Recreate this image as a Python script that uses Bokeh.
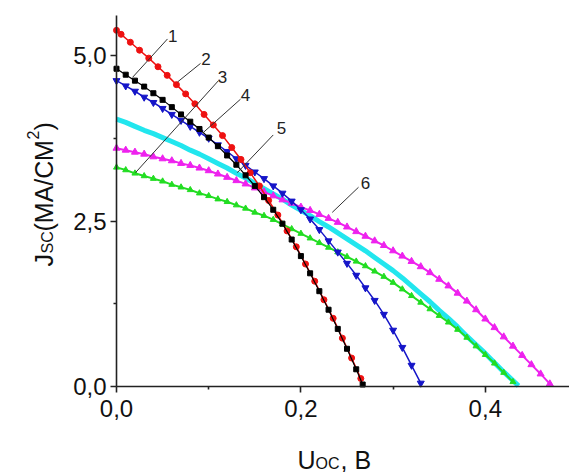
import math
from bokeh.plotting import figure
from bokeh.models import FixedTicker, CustomJSTickFormatter, Label, Range1d
from bokeh.embed import file_html
from bokeh.resources import INLINE

# ---------------- data ----------------
# curve 1 (black squares)
u1 = [0.00, 0.01, 0.02, 0.03, 0.04, 0.05, 0.06, 0.07, 0.08, 0.09, 0.10, 0.11, 0.12, 0.13,
      0.14, 0.15, 0.16, 0.17, 0.18, 0.19, 0.20, 0.21, 0.22, 0.23, 0.24, 0.25, 0.26, 0.267]
j1 = [4.80, 4.71, 4.62, 4.53, 4.43, 4.33, 4.22, 4.11, 4.00, 3.89, 3.76, 3.63, 3.49, 3.35,
      3.19, 3.03, 2.86, 2.67, 2.46, 2.22, 1.97, 1.71, 1.44, 1.16, 0.87, 0.57, 0.26, 0.03]
# curve 2 (red circles)
u2 = [0.000, 0.005, 0.015, 0.025, 0.035, 0.045, 0.055, 0.065, 0.075, 0.085, 0.095, 0.105,
      0.115, 0.125, 0.135, 0.145, 0.155, 0.165, 0.175, 0.185, 0.195, 0.205, 0.215, 0.225,
      0.235, 0.245, 0.255, 0.265]
j2 = [5.38, 5.32, 5.20, 5.08, 4.96, 4.83, 4.70, 4.56, 4.42, 4.27, 4.11, 3.95,
      3.79, 3.61, 3.43, 3.23, 3.03, 2.81, 2.59, 2.35, 2.11, 1.85, 1.59, 1.31,
      1.03, 0.73, 0.43, 0.12]
# curve 3 (green triangles)
u3 = [0.00, 0.01, 0.02, 0.03, 0.04, 0.05, 0.06, 0.07, 0.08, 0.09, 0.10, 0.11, 0.12, 0.13,
      0.14, 0.15, 0.16, 0.17, 0.18, 0.19, 0.20, 0.21, 0.22, 0.23, 0.24, 0.25, 0.26, 0.27,
      0.28, 0.29, 0.30, 0.31, 0.32, 0.33, 0.34, 0.35, 0.36, 0.37, 0.38, 0.39, 0.40, 0.41,
      0.42, 0.43]
j3 = [3.31, 3.27, 3.22, 3.18, 3.14, 3.10, 3.05, 3.01, 2.97, 2.92, 2.88, 2.83, 2.79, 2.74,
      2.69, 2.63, 2.58, 2.52, 2.45, 2.38, 2.31, 2.24, 2.17, 2.10, 2.03, 1.96, 1.89, 1.82,
      1.74, 1.66, 1.57, 1.47, 1.37, 1.27, 1.17, 1.07, 0.97, 0.86, 0.74, 0.61, 0.48, 0.35,
      0.21, 0.07]
# curve 4 (blue down-triangles)
u4 = [0.00, 0.01, 0.02, 0.03, 0.04, 0.05, 0.06, 0.07, 0.08, 0.09, 0.10, 0.11, 0.12, 0.13,
      0.14, 0.15, 0.16, 0.17, 0.18, 0.19, 0.20, 0.21, 0.22, 0.23, 0.24, 0.25, 0.26, 0.27,
      0.28, 0.29, 0.30, 0.31, 0.32, 0.33]
j4 = [4.62, 4.54, 4.46, 4.37, 4.29, 4.20, 4.11, 4.02, 3.93, 3.84, 3.75, 3.65, 3.55, 3.44,
      3.34, 3.24, 3.14, 3.03, 2.92, 2.80, 2.67, 2.53, 2.37, 2.20, 2.03, 1.86, 1.68, 1.49,
      1.30, 1.09, 0.85, 0.59, 0.32, 0.05]
# curve 5 (cyan)
u5 = [0.00, 0.01, 0.02, 0.03, 0.04, 0.05, 0.06, 0.07, 0.08, 0.09, 0.10, 0.11, 0.12, 0.13,
      0.14, 0.15, 0.16, 0.17, 0.18, 0.19, 0.20, 0.21, 0.22, 0.23, 0.24, 0.25, 0.26, 0.27,
      0.28, 0.29, 0.30, 0.31, 0.32, 0.33, 0.34, 0.35, 0.36, 0.37, 0.38, 0.39, 0.40, 0.41,
      0.42, 0.43, 0.436]
j5 = [4.04, 3.99, 3.93, 3.87, 3.82, 3.76, 3.70, 3.64, 3.57, 3.51, 3.44, 3.37, 3.30, 3.22,
      3.15, 3.07, 2.99, 2.91, 2.83, 2.74, 2.66, 2.58, 2.49, 2.41, 2.32, 2.23, 2.14, 2.05,
      1.95, 1.85, 1.75, 1.64, 1.52, 1.40, 1.28, 1.15, 1.03, 0.90, 0.76, 0.63, 0.50, 0.36,
      0.22, 0.09, 0.01]
# curve 6 (magenta triangles)
u6 = [0.00, 0.01, 0.02, 0.03, 0.04, 0.05, 0.06, 0.07, 0.08, 0.09, 0.10, 0.11, 0.12, 0.13,
      0.14, 0.15, 0.16, 0.17, 0.18, 0.19, 0.20, 0.21, 0.22, 0.23, 0.24, 0.25, 0.26, 0.27,
      0.28, 0.29, 0.30, 0.31, 0.32, 0.33, 0.34, 0.35, 0.36, 0.37, 0.38, 0.39, 0.40, 0.41,
      0.42, 0.43, 0.44, 0.45, 0.46, 0.47]
j6 = [3.60, 3.57, 3.54, 3.51, 3.47, 3.44, 3.41, 3.37, 3.34, 3.30, 3.26, 3.21, 3.16, 3.11,
      3.06, 3.00, 2.94, 2.88, 2.82, 2.77, 2.71, 2.66, 2.60, 2.54, 2.48, 2.41, 2.34, 2.27,
      2.20, 2.13, 2.05, 1.97, 1.89, 1.81, 1.72, 1.62, 1.52, 1.41, 1.29, 1.16, 1.02, 0.89,
      0.75, 0.61, 0.47, 0.33, 0.19, 0.04]

x_ticks = [0.0, 0.2, 0.4]
x_minor = [0.1, 0.3]
y_ticks = [0.0, 2.5, 5.0]
y_minor = [1.25, 3.75]
x_axis_end = 0.4913
y_axis_end = 5.604

curve_names = ["1", "2", "3", "4", "5", "6"]
# label text positions and leader lines (data units)
name_x = [0.061, 0.097, 0.115, 0.140, 0.179, 0.270]
name_y = [5.30, 4.95, 4.67, 4.40, 3.90, 3.08]
lead_x0 = [0.0553, 0.0911, 0.1106, 0.1345, 0.1700, 0.2625]
lead_y0 = [5.25, 4.88, 4.62, 4.34, 3.80, 3.01]
lead_x1 = [0.0174, 0.0662, 0.0206, 0.0944, 0.1310, 0.2340]
lead_y1 = [4.67, 4.60, 3.23, 3.84, 3.23, 2.63]

# ---------------- figure ----------------
W, H = 569, 472
ORIG_X, ORIG_Y = 116, 386      # canvas pixel of the (0, 0) point
X_PX, Y_PX = 922.0, 66.2       # pixels per unit

p = figure(width=W, height=H, output_backend="svg", toolbar_location=None,
           x_range=Range1d(-ORIG_X / X_PX, (W - ORIG_X) / X_PX),
           y_range=Range1d(-(H - ORIG_Y) / Y_PX, ORIG_Y / Y_PX),
           min_border=0, min_border_left=0, min_border_right=0,
           min_border_top=0, min_border_bottom=0)
p.outline_line_color = None
p.xgrid.visible = False
p.ygrid.visible = False

FONT = "Liberation Sans"
fmt = CustomJSTickFormatter(code="return tick.toFixed(1).replace('.', ',');")
for ax, t, m in ((p.xaxis[0], x_ticks, x_minor), (p.yaxis[0], y_ticks, y_minor)):
    ax.fixed_location = 0
    ax.ticker = FixedTicker(ticks=t, minor_ticks=m)
    ax.formatter = fmt
    ax.axis_line_color = "#222222"
    ax.axis_line_width = 1.6
    ax.major_tick_line_color = "#222222"
    ax.minor_tick_line_color = "#222222"
    ax.major_tick_line_width = 1.6
    ax.minor_tick_line_width = 1.6
    ax.major_tick_in = 0
    ax.major_tick_out = 6
    ax.minor_tick_in = 0
    ax.minor_tick_out = 3
    ax.major_label_text_font = FONT
    ax.major_label_text_font_size = "24px"
    ax.major_label_text_color = "#111111"
p.xaxis.bounds = (0, x_axis_end)
p.yaxis.bounds = (0, y_axis_end)
p.xaxis.major_label_standoff = 7
p.yaxis.major_label_standoff = 4

# curves
p.line(u5, j5, line_color="#22e6ee", line_width=5, line_join="round")
p.line(u3, j3, line_color="#22dd22", line_width=2, line_join="round")
p.scatter(u3, j3, marker="triangle", size=6, fill_color="#22dd22", line_color="#22dd22")
p.line(u6, j6, line_color="#ee22ee", line_width=2, line_join="round")
p.scatter(u6, j6, marker="triangle", size=7, fill_color="#ee22ee", line_color="#ee22ee")
p.line(u4, j4, line_color="#1515c8", line_width=1.5)
p.scatter(u4, j4, marker="inverted_triangle", size=7, fill_color="#1515c8", line_color="#1515c8")
p.line(u2, j2, line_color="#ee1111", line_width=1.5)
p.scatter(u2, j2, marker="circle", size=6, fill_color="#ee1111", line_color="#ee1111")
p.line(u1, j1, line_color="#000000", line_width=1.2)
p.scatter(u1, j1, marker="square", size=5, fill_color="#000000", line_color="#000000")

# leader lines and curve numbers
p.segment(x0=lead_x0, y0=lead_y0, x1=lead_x1, y1=lead_y1, line_color="#333333", line_width=1)
for name, lx, ly in zip(curve_names, name_x, name_y):
    p.add_layout(Label(x=lx, y=ly, text=name, text_font=FONT, text_font_size="17px",
                       text_color="#222222", text_align="center", text_baseline="middle"))

# axis titles built from pieces (canvas pixel -> data units)
def dx(px):
    return (px - ORIG_X) / X_PX

def dy(py):
    return (ORIG_Y - py) / Y_PX

def piece(text, px, py, size, angle=0.0):
    p.add_layout(Label(x=dx(px), y=dy(py), text=text, angle=angle, text_font=FONT,
                       text_font_size=f"{size}px", text_color="#111111",
                       text_align="left", text_baseline="alphabetic"))

A = math.pi / 2
piece("J", 43, 266, 25, A)
piece("SC", 47, 253, 16, A)
piece("(МА/СМ", 43, 231, 25, A)
piece("2", 32, 139, 16, A)
piece(")", 43, 130, 25, A)

piece("U", 297, 459, 25)
piece("OC", 315, 463, 16)
piece(", B", 340, 459, 25)

open("out.html", "w").write(file_html(p, INLINE))
